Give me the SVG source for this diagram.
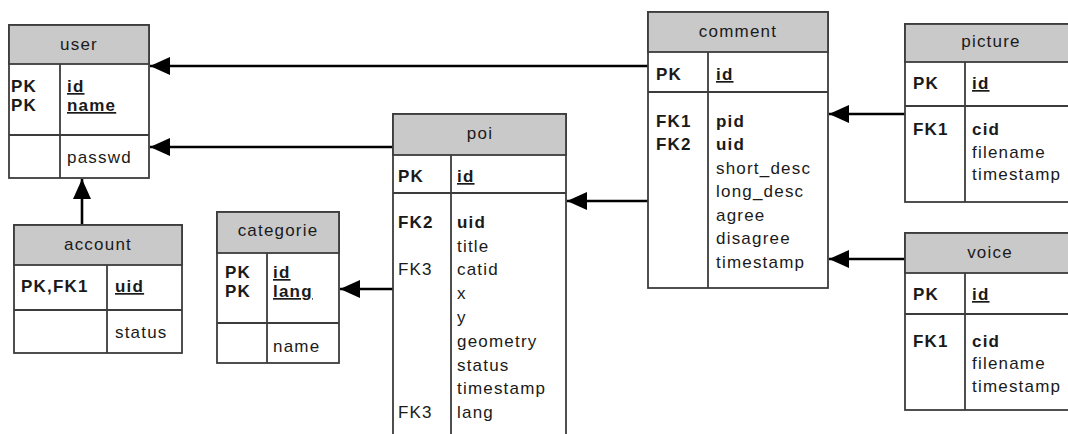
<svg xmlns="http://www.w3.org/2000/svg" width="1068" height="434" viewBox="0 0 1068 434">
  <style>
    .box { fill: #ffffff; stroke: #3c3c3c; stroke-width: 1.8; }
    .head { fill: #c9c9c9; stroke: #3c3c3c; stroke-width: 1.8; }
    .div { stroke: #3c3c3c; stroke-width: 1.8; }
    text { font-family: "Liberation Sans", Arial, sans-serif; font-size: 17px; letter-spacing: 1.2px; fill: #1a1a1a; }
    .title { text-anchor: middle; }
    .b { font-weight: bold; }
    .u { text-decoration: underline; }
    .conn { stroke: #000000; stroke-width: 2.6; fill: none; }
  </style>
  <defs>
    <marker id="arrow" markerUnits="userSpaceOnUse" markerWidth="22" markerHeight="20" refX="20" refY="9" orient="auto">
      <path d="M0,0 L20,9 L0,18 Z" fill="#000000"/>
    </marker>
  </defs>
  <rect width="1068" height="434" fill="#ffffff"/>

  <!-- relationships: foreign key side to referenced table -->
  <g id="connectors">
    <path class="conn" d="M648,66 L150,66" marker-end="url(#arrow)"/>
    <path class="conn" d="M393,147 L150,147" marker-end="url(#arrow)"/>
    <path class="conn" d="M82,225 L82,179" marker-end="url(#arrow)"/>
    <path class="conn" d="M393,289 L340,289" marker-end="url(#arrow)"/>
    <path class="conn" d="M648,201 L567,201" marker-end="url(#arrow)"/>
    <path class="conn" d="M905,114 L829,114" marker-end="url(#arrow)"/>
    <path class="conn" d="M905,259 L829,259" marker-end="url(#arrow)"/>
  </g>

  <g id="user">
    <rect class="box" x="9" y="25" width="140" height="153"/>
    <rect class="head" x="9" y="25" width="140" height="39"/>
    <line class="div" x1="9" y1="135" x2="149" y2="135"/>
    <line class="div" x1="60" y1="64" x2="60" y2="178"/>
    <text class="title" x="79" y="50">user</text>
    <text class="b" x="11" y="92">PK</text>
    <text class="b" x="11" y="111">PK</text>
    <text class="b u" x="67" y="92">id</text>
    <text class="b u" x="67" y="111">name</text>
    <text x="67" y="163">passwd</text>
  </g>

  <g id="account">
    <rect class="box" x="14" y="225" width="168" height="128"/>
    <rect class="head" x="14" y="225" width="168" height="40"/>
    <line class="div" x1="14" y1="310" x2="182" y2="310"/>
    <line class="div" x1="107" y1="265" x2="107" y2="353"/>
    <text class="title" x="98" y="250">account</text>
    <text class="b" x="21" y="292">PK,FK1</text>
    <text class="b u" x="115" y="292">uid</text>
    <text x="115" y="338">status</text>
  </g>

  <g id="categorie">
    <rect class="box" x="217" y="212" width="122" height="151"/>
    <rect class="head" x="217" y="212" width="122" height="41"/>
    <line class="div" x1="217" y1="323" x2="339" y2="323"/>
    <line class="div" x1="267" y1="253" x2="267" y2="363"/>
    <text class="title" x="278" y="236">categorie</text>
    <text class="b" x="225" y="278">PK</text>
    <text class="b" x="225" y="297">PK</text>
    <text class="b u" x="273" y="278">id</text>
    <text class="b u" x="273" y="297">lang</text>
    <text x="273" y="352">name</text>
  </g>

  <g id="poi">
    <rect class="box" x="393" y="114" width="173" height="330"/>
    <rect class="head" x="393" y="114" width="173" height="41"/>
    <line class="div" x1="393" y1="193" x2="566" y2="193"/>
    <line class="div" x1="451" y1="155" x2="451" y2="434"/>
    <text class="title" x="480" y="139">poi</text>
    <text class="b" x="398" y="182">PK</text>
    <text class="b u" x="457" y="182">id</text>
    <text class="b" x="398" y="228">FK2</text>
    <text x="398" y="275">FK3</text>
    <text x="398" y="418">FK3</text>
    <text class="b" x="457" y="228">uid</text>
    <text x="457" y="252">title</text>
    <text x="457" y="275">catid</text>
    <text x="457" y="299">x</text>
    <text x="457" y="323">y</text>
    <text x="457" y="347">geometry</text>
    <text x="457" y="371">status</text>
    <text x="457" y="394">timestamp</text>
    <text x="457" y="418">lang</text>
  </g>

  <g id="comment">
    <rect class="box" x="648" y="12" width="180" height="276"/>
    <rect class="head" x="648" y="12" width="180" height="40"/>
    <line class="div" x1="648" y1="92" x2="828" y2="92"/>
    <line class="div" x1="708" y1="52" x2="708" y2="288"/>
    <text class="title" x="738" y="37">comment</text>
    <text class="b" x="656" y="80">PK</text>
    <text class="b u" x="716" y="80">id</text>
    <text class="b" x="656" y="127">FK1</text>
    <text class="b" x="656" y="150">FK2</text>
    <text class="b" x="716" y="127">pid</text>
    <text class="b" x="716" y="150">uid</text>
    <text x="716" y="174">short_desc</text>
    <text x="716" y="197">long_desc</text>
    <text x="716" y="221">agree</text>
    <text x="716" y="244">disagree</text>
    <text x="716" y="268">timestamp</text>
  </g>

  <g id="picture">
    <rect class="box" x="905" y="24" width="175" height="178"/>
    <rect class="head" x="905" y="24" width="175" height="38"/>
    <line class="div" x1="905" y1="106" x2="1080" y2="106"/>
    <line class="div" x1="965" y1="62" x2="965" y2="202"/>
    <text class="title" x="991" y="47">picture</text>
    <text class="b" x="913" y="89">PK</text>
    <text class="b u" x="972" y="89">id</text>
    <text class="b" x="913" y="135">FK1</text>
    <text class="b" x="972" y="135">cid</text>
    <text x="972" y="158">filename</text>
    <text x="972" y="180">timestamp</text>
  </g>

  <g id="voice">
    <rect class="box" x="905" y="233" width="175" height="177"/>
    <rect class="head" x="905" y="233" width="175" height="40"/>
    <line class="div" x1="905" y1="314" x2="1080" y2="314"/>
    <line class="div" x1="965" y1="273" x2="965" y2="410"/>
    <text class="title" x="990" y="258">voice</text>
    <text class="b" x="913" y="300">PK</text>
    <text class="b u" x="972" y="300">id</text>
    <text class="b" x="913" y="347">FK1</text>
    <text class="b" x="972" y="347">cid</text>
    <text x="972" y="369">filename</text>
    <text x="972" y="392">timestamp</text>
  </g>
</svg>
